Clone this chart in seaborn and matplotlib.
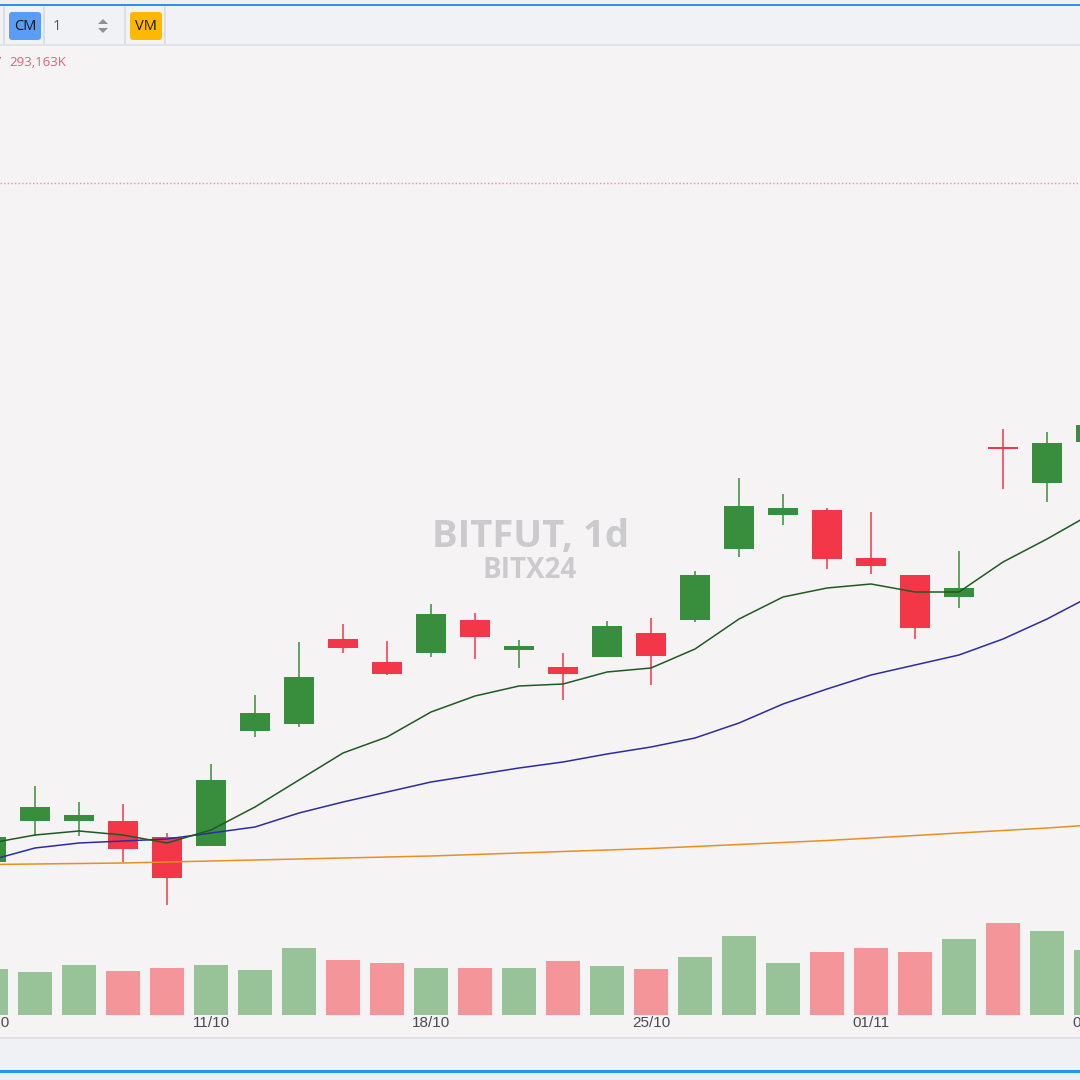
import numpy as np
import pandas as pd
import seaborn as sns
import matplotlib.pyplot as plt
import matplotlib.transforms as mtransforms
from matplotlib.patches import Rectangle, FancyBboxPatch, Polygon

# Daily candles (trading days only), price in chart units
dates = ['04/10', '07/10', '08/10', '09/10', '10/10', '11/10', '14/10', '15/10',
         '16/10', '17/10', '18/10', '21/10', '22/10', '23/10', '24/10', '25/10',
         '28/10', '29/10', '30/10', '31/10', '01/11', '04/11', '05/11', '06/11',
         '07/11', '08/11']
opens = [238, 279, 279, 279, 263, 254, 369, 376, 461, 438, 447, 480, 450, 433,
         443, 467, 480, 551, 585, 590, 542, 525, 503, 653, 617, 658]
highs = [265, 314, 298, 296, 267, 336, 405, 458, 476, 459, 496, 487, 460, 447,
         479, 482, 529, 622, 606, 592, 588, 525, 549, 671, 668, 682]
lows = [236, 264, 264, 238, 195, 254, 363, 373, 447, 425, 443, 441, 432, 400,
        443, 415, 478, 543, 575, 531, 526, 461, 492, 611, 598, 656]
closes = [263, 293, 285, 251, 222, 320, 387, 423, 452, 426, 486, 463, 454, 426,
          474, 444, 525, 594, 592, 541, 534, 472, 512, 651, 657, 675]

# volume, thousands
volumes = [207000, 194000, 225500, 198400, 212000, 225500, 203000, 302200,
           248000, 234500, 212000, 212000, 212000, 243500, 221000, 207500,
           261600, 356300, 234500, 284100, 302200, 284100, 342800, 414900,
           378800, 293163]

# moving averages
ma_fast = [257, 265, 269, 265, 257, 270, 293, 320, 347, 363, 388, 404, 414, 416,
           428, 432, 451, 481, 503, 512, 516, 508, 508, 538, 561, 586]
ma_mid = [240, 252, 257, 259, 261, 267, 273, 287, 298, 308, 318, 325, 332, 338,
          346, 353, 362, 377, 396, 411, 425, 435, 445, 461, 481, 504]
ma_slow = [235.5, 236, 236.5, 237, 238, 239, 240, 241, 242, 243, 244, 245.5, 247,
           248.5, 250, 251.5, 253.5, 255.5, 257.5, 259.5, 262, 264.5, 267, 269.5,
           272, 275]

tick_labels = ['04/10', '11/10', '18/10', '25/10', '01/11', '08/11']
alert_level = 917
last_volume_text = '293,163K'

W = H = 1080
UP, DOWN = '#388E3C', '#F33748'
BG = '#F5F3F4'

sns.set_style('white')
plt.rcParams['font.family'] = ['Open Sans', 'DejaVu Sans']

fig = plt.figure(figsize=(10.8, 10.8), dpi=100)
fig.patch.set_facecolor(BG)


def fy(y):
    return 1 - y / H


def frect(x0, y0, x1, y1, color):
    fig.add_artist(Rectangle((x0 / W, fy(y1)), (x1 - x0) / W, (y1 - y0) / H,
                             transform=fig.transFigure, color=color, lw=0))


# chart frame: volume axes underneath, price axes on top
rect = [0, fy(1038), 1, (1038 - 46) / H]
ax_vol = fig.add_axes(rect)
ax = ax_vol.twinx()

n = len(dates)
idx = np.arange(n)
df = pd.DataFrame({'i': idx, 'volume': volumes,
                   'dir': ['up' if c >= o else 'down' for o, c in zip(opens, closes)]})

sns.barplot(data=df, x='i', y='volume', hue='dir',
            palette={'up': '#98C398', 'down': '#F4959A'}, saturation=1,
            dodge=False, width=0.78, legend=False, ax=ax_vol, linewidth=0)
ax_vol.set_xlim(9 / 44, 1089 / 44)
ax_vol.set_ylim(-23 * 4510, 969 * 4510)
ax_vol.set_axis_off()

# candles
o = np.array(opens, float)
c = np.array(closes, float)
cols = [UP if cc >= oo else DOWN for oo, cc in zip(o, c)]
ax.vlines(idx, lows, highs, colors=cols, lw=1.1, zorder=3)
body_lo = np.minimum(o, c)
body_h = np.maximum(np.abs(c - o), 1.5)
ax.bar(idx, body_h, bottom=body_lo, width=0.70, color=cols, lw=0, zorder=4)

# moving averages
sns.lineplot(x=idx, y=ma_slow, ax=ax, color='#E8901E', lw=1.1, zorder=5)
sns.lineplot(x=idx, y=ma_mid, ax=ax, color='#2B2BA6', lw=1.1, zorder=5)
sns.lineplot(x=idx, y=ma_fast, ax=ax, color='#1F5A22', lw=1.1, zorder=5)

ax.axhline(alert_level, color='#F08CA2', ls=(0, (1, 1.6)), lw=1.0, zorder=2)
ax.set_xlim(9 / 44, 1089 / 44)
ax.set_ylim(62, 1054)
ax.set_axis_off()

# date labels along the bottom
tr = mtransforms.blended_transform_factory(ax_vol.transData, ax_vol.transAxes)
for lab in tick_labels:
    ax_vol.text(dates.index(lab), 15 / 992, lab, transform=tr, ha='center',
                va='center', fontsize=11, color='#4A4A52',
                family=['Liberation Sans', 'DejaVu Sans'], clip_on=False)

# watermark
ax_vol.text(531 / W, fy(537), 'BITFUT, 1d', transform=fig.transFigure,
            ha='center', va='center', fontsize=27.5, weight='bold',
            color='#CBCACD', zorder=0)
ax_vol.text(530 / W, fy(571), 'BITX24', transform=fig.transFigure,
            ha='center', va='center', fontsize=20, weight='bold',
            color='#CBCACD', zorder=0)

# toolbar at the top
frect(0, 0, W, 4, '#F0F0F0')
frect(0, 4, W, 6, '#2196F3')
frect(0, 6, W, 44, '#F1F2F6')
frect(0, 44, W, 46, '#E0E2E8')
for sx in [4, 44, 125, 165]:
    frect(sx - 1, 6, sx + 1, 44, '#DCDEE3')
for x0, color, label in [(9, '#5B9CF6', 'CM'), (130, '#FFB800', 'VM')]:
    fig.add_artist(FancyBboxPatch((x0 / W, fy(40)), 32 / W, 28 / H,
                                  boxstyle='round,pad=0,rounding_size=0.003',
                                  transform=fig.transFigure, color=color, lw=0))
    fig.text((x0 + 16) / W, fy(26), label, ha='center', va='center',
             fontsize=10.5, color='#15161A')
fig.text(57 / W, fy(26), '1', ha='center', va='center', fontsize=10.5,
         color='#50535C')
fig.add_artist(Polygon([(98 / W, fy(24)), (108 / W, fy(24)), (103 / W, fy(19))],
                       transform=fig.transFigure, color='#8E9098', lw=0))
fig.add_artist(Polygon([(98 / W, fy(28)), (108 / W, fy(28)), (103 / W, fy(33))],
                       transform=fig.transFigure, color='#8E9098', lw=0))

# volume legend line
fig.text(-7 / W, fy(63), 'V', ha='left', va='center', fontsize=9.5,
         color='#50535C')
fig.text(9 / W, fy(63), last_volume_text, ha='left', va='center', fontsize=9.5,
         color='#E0627C')

# bottom strip
frect(0, 1037, W, 1039, '#DFDFE4')
frect(0, 1039, W, 1070, '#F0F1F5')
frect(0, 1070, W, 1073, '#2196F3')
frect(0, 1073, W, H, '#F0F0F0')

fig.savefig('out.png', dpi=100, facecolor=fig.get_facecolor())
